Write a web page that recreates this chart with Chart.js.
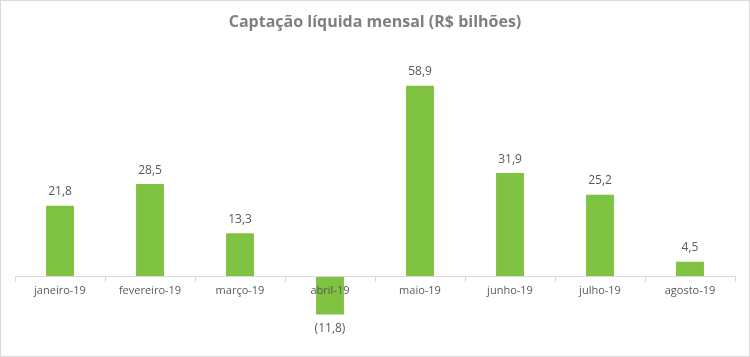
<!DOCTYPE html>
<html><head><meta charset="utf-8">
<script src="https://cdn.jsdelivr.net/npm/chart.js@4"></script>
<style>
html,body{margin:0;padding:0;background:#fff;}
#wrap{width:750px;height:357px;box-sizing:border-box;border:1px solid #d9d9d9;}
canvas{display:block;}
</style></head>
<body><div id="wrap"><canvas id="c" width="748" height="355"></canvas></div>
<script>
const categories = ["janeiro-19","fevereiro-19","março-19","abril-19","maio-19","junho-19","julho-19","agosto-19"];
const values = [21.8, 28.5, 13.3, -11.8, 58.9, 31.9, 25.2, 4.5];
const titleText = "Captação líquida mensal (R$ bilhões)";

function fmt(v){
  const s = Math.abs(v).toFixed(1).replace('.', ',');
  return v < 0 ? '(' + s + ')' : s;
}

const labelPlugin = {
  id: 'labels',
  afterDatasetsDraw(chart){
    const ctx = chart.ctx;
    const meta = chart.getDatasetMeta(0);
    ctx.save();
    ctx.font = '12px "Open Sans"';
    ctx.fillStyle = '#595959';
    ctx.textAlign = 'center';
    ctx.textBaseline = 'middle';
    meta.data.forEach((bar, i) => {
      const v = values[i];
      const y = v >= 0 ? bar.y - 14 : bar.y + 14;
      ctx.fillText(fmt(v), bar.x, y);
    });
    ctx.font = 'bold 16px "Open Sans"';
    ctx.fillStyle = '#7f7f7f';
    ctx.fillText(titleText, chart.width / 2, 21);
    ctx.restore();
  }
};

new Chart(document.getElementById('c'), {
  type: 'bar',
  data: {
    labels: categories,
    datasets: [{
      data: values,
      backgroundColor: '#80c242',
      borderWidth: 0,
      categoryPercentage: 1,
      barPercentage: 0.31
    }]
  },
  options: {
    responsive: false,
    animation: false,
    layout: { padding: { top: 65, bottom: 15, left: 14, right: 14 } },
    plugins: { legend: { display: false }, tooltip: { enabled: false }, title: { display: false } },
    scales: {
      y: { display: false, min: -20, max: 65 },
      x: {
        position: { y: 0 },
        grid: { display: true, drawOnChartArea: false, drawTicks: true, tickLength: 5, color: '#d9d9d9', offset: true, z: 1 },
        border: { display: true, color: '#d9d9d9', width: 1, z: 1 },
        ticks: { color: '#595959', font: { family: 'Open Sans', size: 11 }, padding: 3, maxRotation: 0, autoSkip: false, z: 1 }
      }
    }
  },
  plugins: [labelPlugin]
});
</script></body></html>
